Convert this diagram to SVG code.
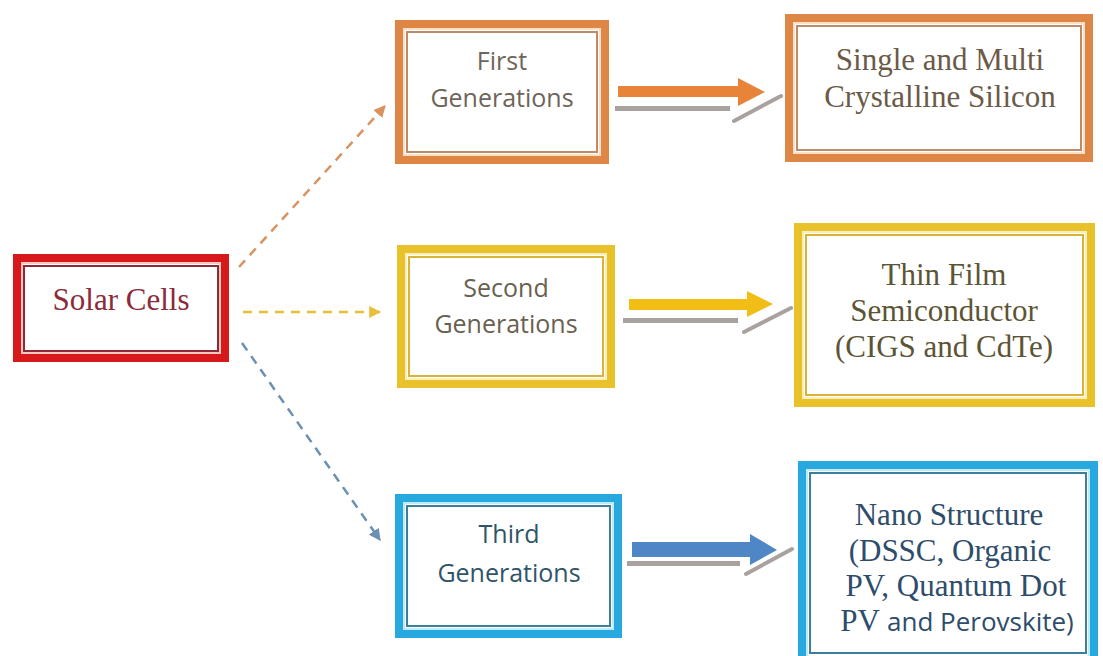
<svg xmlns="http://www.w3.org/2000/svg" width="1103" height="656" viewBox="0 0 1103 656">
<style>
.outer{fill:#fff;stroke-width:8}
.gap{fill:none;stroke-width:2}
.inner{fill:none;stroke-width:2}
.serif{font-family:"Liberation Serif","Times New Roman",serif;font-size:31px;text-anchor:middle}
.sans{font-family:"Open Sans","Noto Sans",sans-serif;font-size:25px;text-anchor:middle}
.dash{fill:none;stroke-width:2.5;stroke-dasharray:9 7}
.shadow{fill:#a9a19d}
.shline{stroke:#a9a19d;stroke-width:4;stroke-linecap:round}
</style>
<defs>
<marker id="mo" viewBox="0 0 10 10" refX="9" refY="5" markerWidth="12" markerHeight="12" orient="auto" markerUnits="userSpaceOnUse"><path d="M0,0 L10,5 L0,10 z" fill="#d99260"/></marker>
<marker id="my" viewBox="0 0 10 10" refX="9" refY="5" markerWidth="12" markerHeight="12" orient="auto" markerUnits="userSpaceOnUse"><path d="M0,0 L10,5 L0,10 z" fill="#e8be3a"/></marker>
<marker id="mb" viewBox="0 0 10 10" refX="9" refY="5" markerWidth="12" markerHeight="12" orient="auto" markerUnits="userSpaceOnUse"><path d="M0,0 L10,5 L0,10 z" fill="#6a90b3"/></marker>
</defs>
<rect width="1103" height="656" fill="#fff"/>

<g id="solar-cells">
<rect class="outer" x="17" y="258" width="208" height="100" stroke="#d7191c"/>
<rect class="gap" x="22" y="263" width="198" height="90" stroke="#f8c8c0"/>
<rect class="inner" x="24" y="266" width="194" height="85" stroke="#8e2a36"/>
<text class="serif" x="121" y="310" fill="#8b2a3a">Solar Cells</text>
</g>

<g id="first-gen">
<rect class="outer" x="399" y="24" width="206" height="136" stroke="#dd8645"/>
<rect class="gap" x="404" y="29" width="196" height="126" stroke="#fbe0c8"/>
<rect class="inner" x="407" y="32" width="190" height="120" stroke="#bf8a68"/>
<text class="sans" x="502" y="70" fill="#6e6558">First</text>
<text class="sans" x="502" y="107" fill="#6e6558">Generations</text>
</g>

<g id="second-gen">
<rect class="outer" x="401" y="249" width="210" height="135" stroke="#e9c12b"/>
<rect class="gap" x="406" y="254" width="200" height="125" stroke="#fbeeb8"/>
<rect class="inner" x="409" y="257" width="194" height="119" stroke="#d9b33a"/>
<text class="sans" x="506" y="297" fill="#6a6050">Second</text>
<text class="sans" x="506" y="333" fill="#6a6050">Generations</text>
</g>

<g id="third-gen">
<rect class="outer" x="399" y="498" width="219" height="136" stroke="#27a9df"/>
<rect class="gap" x="404" y="503" width="209" height="126" stroke="#bfeaf8"/>
<rect class="inner" x="407" y="506" width="203" height="120" stroke="#3b7f9e"/>
<text class="sans" x="509" y="543" fill="#2f5468">Third</text>
<text class="sans" x="509" y="582" fill="#2f5468">Generations</text>
</g>

<g id="crystalline">
<rect class="outer" x="789" y="18" width="300" height="140" stroke="#dd8645"/>
<rect class="gap" x="794" y="23" width="290" height="130" stroke="#fbe0c8"/>
<rect class="inner" x="797" y="26" width="284" height="124" stroke="#bf8a68"/>
<text class="serif" x="940" y="70" fill="#6b5a48">Single and Multi</text>
<text class="serif" x="940" y="107" fill="#6b5a48">Crystalline Silicon</text>
</g>

<g id="thin-film">
<rect class="outer" x="798" y="227" width="293" height="176" stroke="#e9c12b"/>
<rect class="gap" x="803" y="232" width="283" height="166" stroke="#fbeeb8"/>
<rect class="inner" x="806" y="235" width="277" height="160" stroke="#d9b33a"/>
<text class="serif" x="944" y="285" fill="#5c5535">Thin Film</text>
<text class="serif" x="944" y="321" fill="#5c5535">Semiconductor</text>
<text class="serif" x="944" y="357" fill="#5c5535">(CIGS and CdTe)</text>
</g>

<g id="nano">
<rect class="outer" x="802" y="465" width="292" height="200" stroke="#27a9df"/>
<rect class="gap" x="807" y="470" width="282" height="190" stroke="#bfeaf8"/>
<rect class="inner" x="810" y="473" width="276" height="180" stroke="#3b7f9e"/>
<text class="serif" x="949" y="525" fill="#2e4c6b">Nano Structure</text>
<text class="serif" x="950" y="561" fill="#2e4c6b">(DSSC, Organic</text>
<text class="serif" x="956" y="596" fill="#2e4c6b">PV, Quantum Dot</text>
<text class="serif" x="957" y="631" fill="#2e4c6b">PV <tspan font-family="'Open Sans','Noto Sans',sans-serif" font-size="26px">and Perovskite)</tspan></text>
</g>

<g id="connectors">
<line class="dash" x1="239" y1="267" x2="385" y2="106" stroke="#d99260" marker-end="url(#mo)"/>
<line class="dash" x1="243" y1="312" x2="380" y2="312" stroke="#e8be3a" marker-end="url(#my)"/>
<line class="dash" x1="242" y1="343" x2="380" y2="540" stroke="#6a90b3" marker-end="url(#mb)"/>

<rect class="shadow" x="615" y="106" width="115" height="5"/>
<line class="shline" x1="734" y1="121" x2="781" y2="96"/>
<polygon points="618,86 738,86 738,78 765,92 738,106 738,97 618,97" fill="#e7843a"/>

<rect class="shadow" x="623" y="318" width="115" height="5"/>
<line class="shline" x1="744" y1="332" x2="791" y2="308"/>
<polygon points="629,299 747,299 747,291 773,304 747,317 747,310 629,310" fill="#f2bd14"/>

<rect class="shadow" x="627" y="561" width="113" height="5"/>
<line class="shline" x1="746" y1="574" x2="792" y2="549"/>
<polygon points="632,542 750,542 750,534 777,550 750,565 750,557 632,557" fill="#4e86c6"/>
</g>
</svg>
